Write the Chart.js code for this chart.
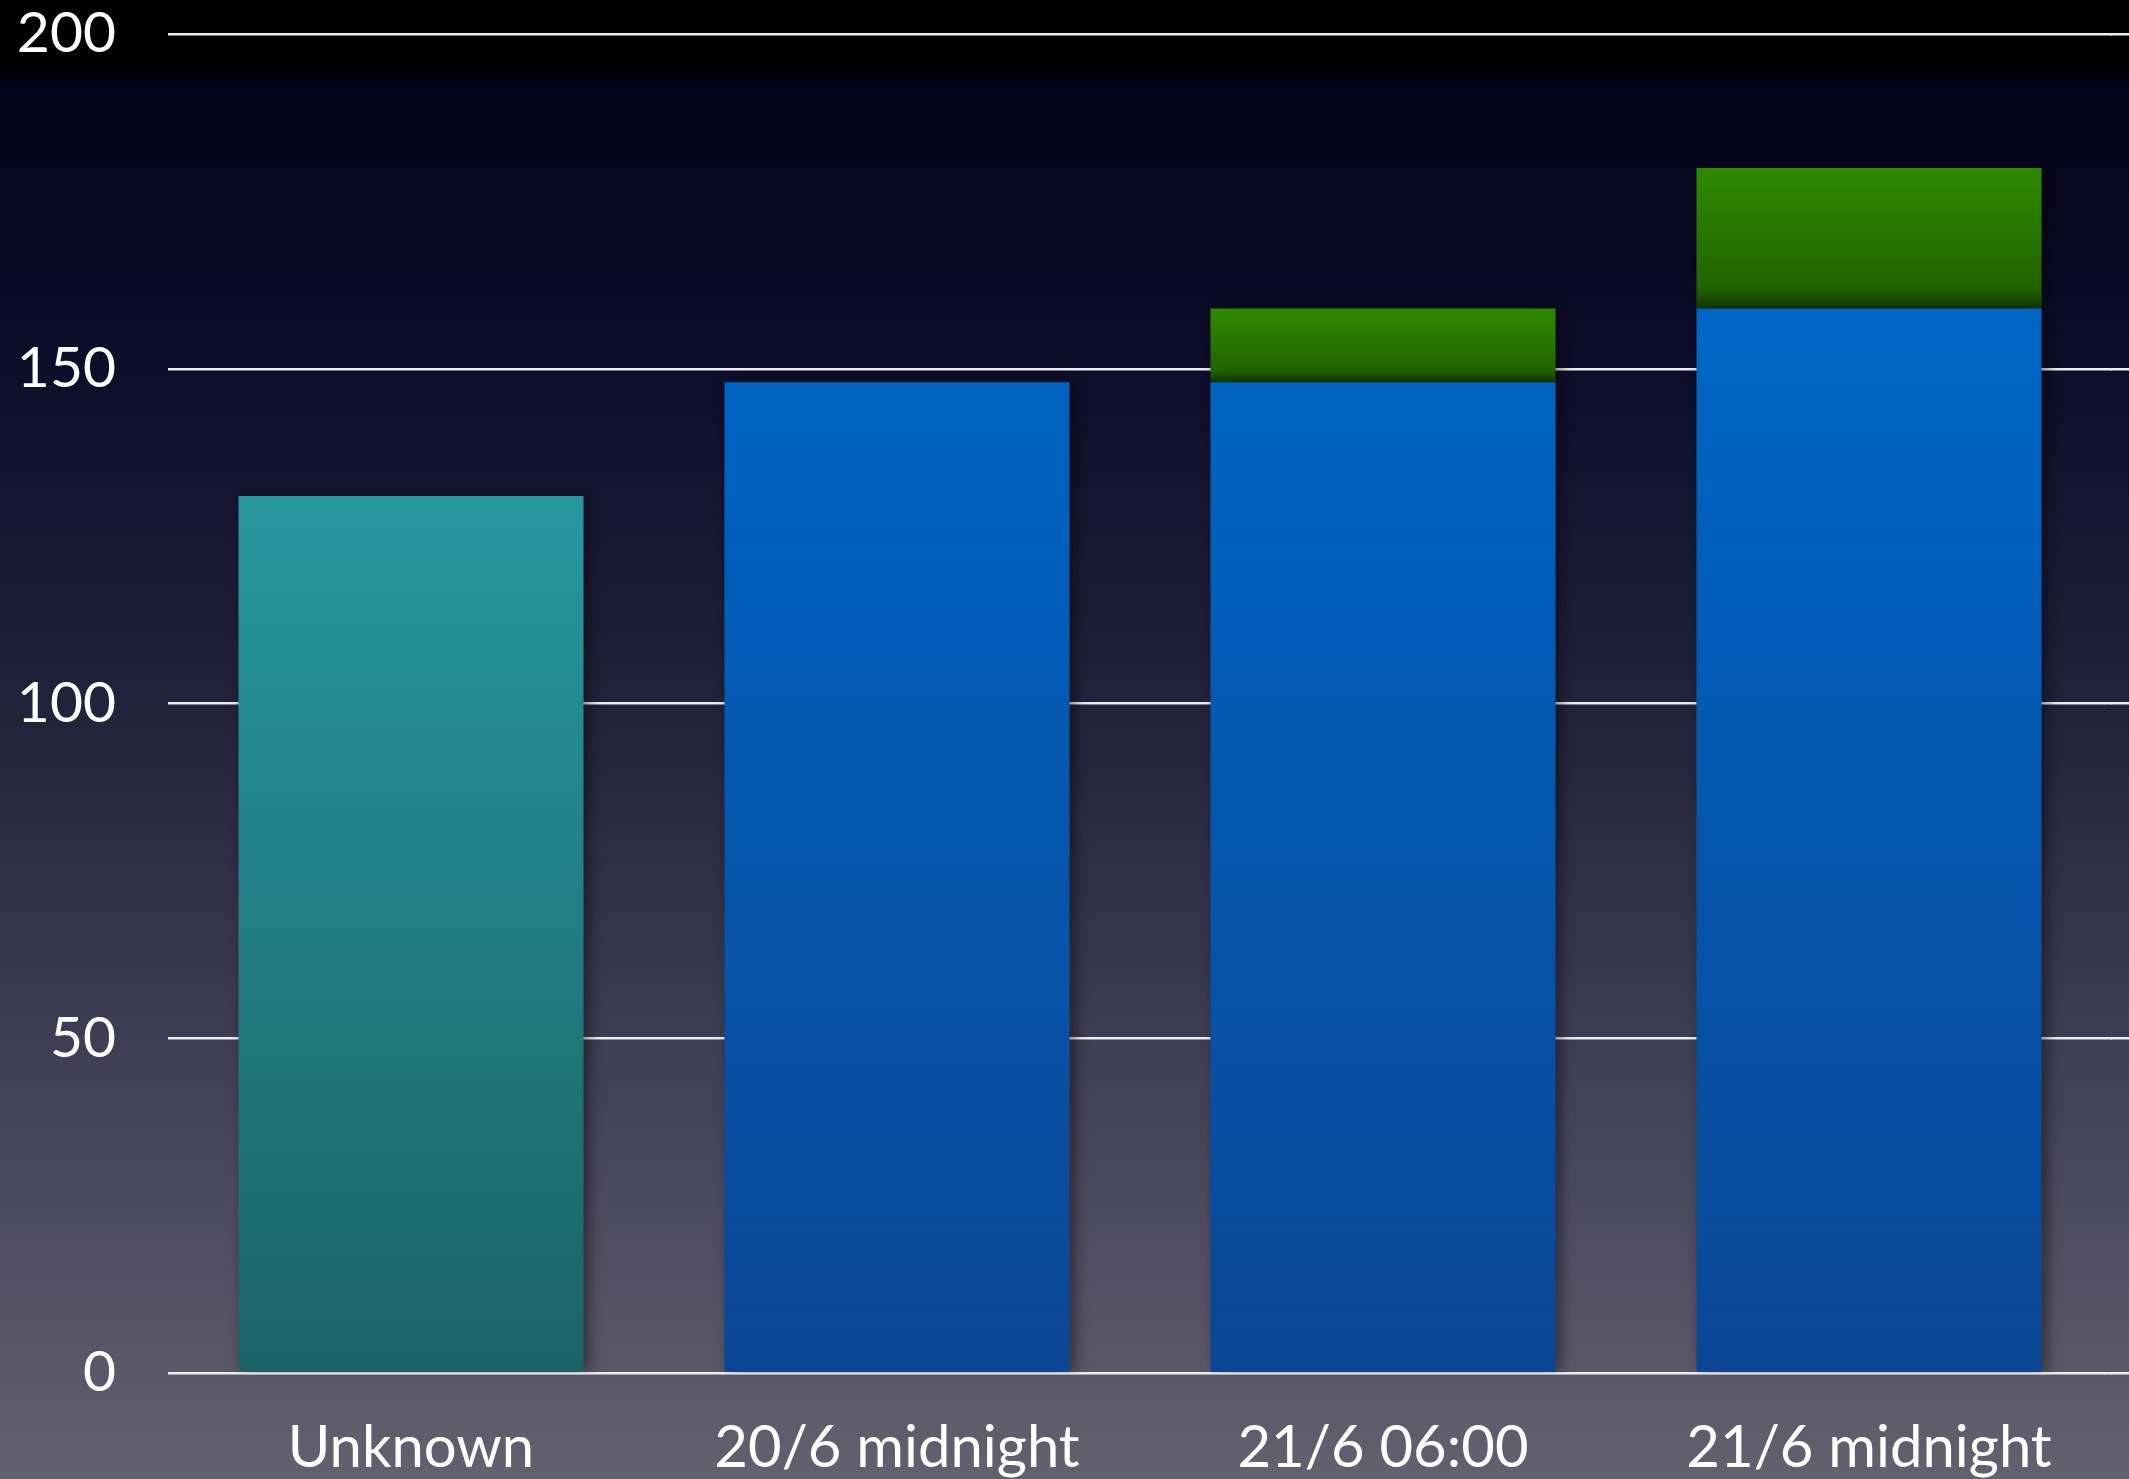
<!DOCTYPE html>
<html>
<head>
<meta charset="utf-8">
<script src="https://cdn.jsdelivr.net/npm/chart.js@4"></script>
<style>
  html, body { margin: 0; padding: 0; background: #000; }
  #wrap { width: 2129px; height: 1479px; }
</style>
</head>
<body>
<div id="wrap"><canvas id="chart"></canvas></div>
<script>
const categories = ["Unknown", "20/6 midnight", "21/6 06:00", "21/6 midnight"];
const baseCounts = [131, 148, 148, 159];
const addedCounts = [0, 0, 11, 21];
const yTicks = [0, 50, 100, 150, 200];

const gridWidth = 2.5;

// slide-like background, black at the top fading to grey-purple
const backdrop = {
  id: "backdrop",
  beforeDraw(chart) {
    const { ctx, width, height } = chart;
    const g = ctx.createLinearGradient(0, 0, 0, height);
    g.addColorStop(0, "#000000");
    g.addColorStop(0.045, "#000000");
    g.addColorStop(0.06, "#02021a");
    g.addColorStop(0.25, "#0e0d2a");
    g.addColorStop(0.5, "#25243d");
    g.addColorStop(0.75, "#454358");
    g.addColorStop(1, "#63606f");
    ctx.save();
    ctx.fillStyle = g;
    ctx.fillRect(0, 0, width, height);
    ctx.restore();
  },
  beforeDatasetsDraw(chart) {
    const ctx = chart.ctx;
    const y = chart.scales.y;
    // the grid runs on to the right edge of the slide
    ctx.save();
    ctx.strokeStyle = "#eeeeee";
    ctx.lineWidth = gridWidth;
    y.ticks.forEach((t) => {
      const half = gridWidth / 2;
      const py = Math.round(y.getPixelForValue(t.value) - half) + half;
      ctx.beginPath();
      ctx.moveTo(chart.chartArea.right - 1, py);
      ctx.lineTo(chart.width, py);
      ctx.stroke();
    });
    ctx.restore();

    ctx.save();
    ctx.shadowColor = "rgba(0,0,0,0.45)";
    ctx.shadowBlur = 14;
    ctx.shadowOffsetX = 5;
  },
  afterDatasetsDraw(chart) {
    chart.ctx.restore();
  },
};

function barGradient(ctx, top, bottom, stops) {
  const g = ctx.chart.ctx.createLinearGradient(0, top, 0, bottom);
  stops.forEach((s) => g.addColorStop(s[0], s[1]));
  return g;
}

function baseColor(ctx) {
  const y = ctx.chart.scales.y;
  if (!y || !ctx.chart.chartArea) return "#0060b8";
  const i = ctx.dataIndex;
  const top = y.getPixelForValue(baseCounts[i]);
  const bottom = y.getPixelForValue(0);
  if (i === 0) {
    return barGradient(ctx, top, bottom, [[0, "#26979d"], [1, "#1b6367"]]);
  }
  const area = ctx.chart.chartArea;
  return barGradient(ctx, area.top, bottom, [[0, "#006cd0"], [0.3, "#0062c0"], [1, "#0b4694"]]);
}

function addedColor(ctx) {
  const y = ctx.chart.scales.y;
  if (!y || !ctx.chart.chartArea) return "#2a8000";
  const i = ctx.dataIndex;
  const top = y.getPixelForValue(baseCounts[i] + addedCounts[i]);
  const bottom = y.getPixelForValue(baseCounts[i]);
  return barGradient(ctx, top, bottom, [[0, "#2e8a00"], [0.85, "#216400"], [1, "#163c00"]]);
}

new Chart(document.getElementById("chart"), {
  type: "bar",
  data: {
    labels: categories,
    datasets: [
      {
        label: "Counted",
        data: baseCounts,
        backgroundColor: baseColor,
        borderWidth: 0,
        categoryPercentage: 1,
        barPercentage: 0.71,
      },
      {
        label: "Added",
        data: addedCounts,
        backgroundColor: addedColor,
        borderWidth: 0,
        categoryPercentage: 1,
        barPercentage: 0.71,
      },
    ],
  },
  options: {
    responsive: true,
    maintainAspectRatio: false,
    animation: false,
    layout: { padding: { top: 34, right: 17, bottom: 0, left: 0 } },
    plugins: {
      legend: { display: false },
      tooltip: { enabled: false },
    },
    scales: {
      x: {
        stacked: true,
        grid: { display: false },
        border: { display: false },
        ticks: {
          color: "#ffffff",
          font: { family: "Lato", size: 58 },
          padding: 32,
          maxRotation: 0,
        },
        afterFit(scale) {
          scale.height = 106;
          scale.paddingLeft = 0;
          scale.paddingRight = 0;
        },
      },
      y: {
        stacked: true,
        min: 0,
        max: 200,
        afterBuildTicks(scale) {
          scale.ticks = yTicks.map((v) => ({ value: v }));
        },
        grid: {
          color: "#eeeeee",
          lineWidth: gridWidth,
          drawTicks: false,
        },
        border: { display: false },
        ticks: {
          color: "#ffffff",
          font: { family: "Lato", size: 57 },
          padding: 52,
        },
        afterFit(scale) {
          scale.width = 168;
          scale.paddingTop = 0;
          scale.paddingBottom = 0;
        },
      },
    },
  },
  plugins: [backdrop],
});
</script>
</body>
</html>
